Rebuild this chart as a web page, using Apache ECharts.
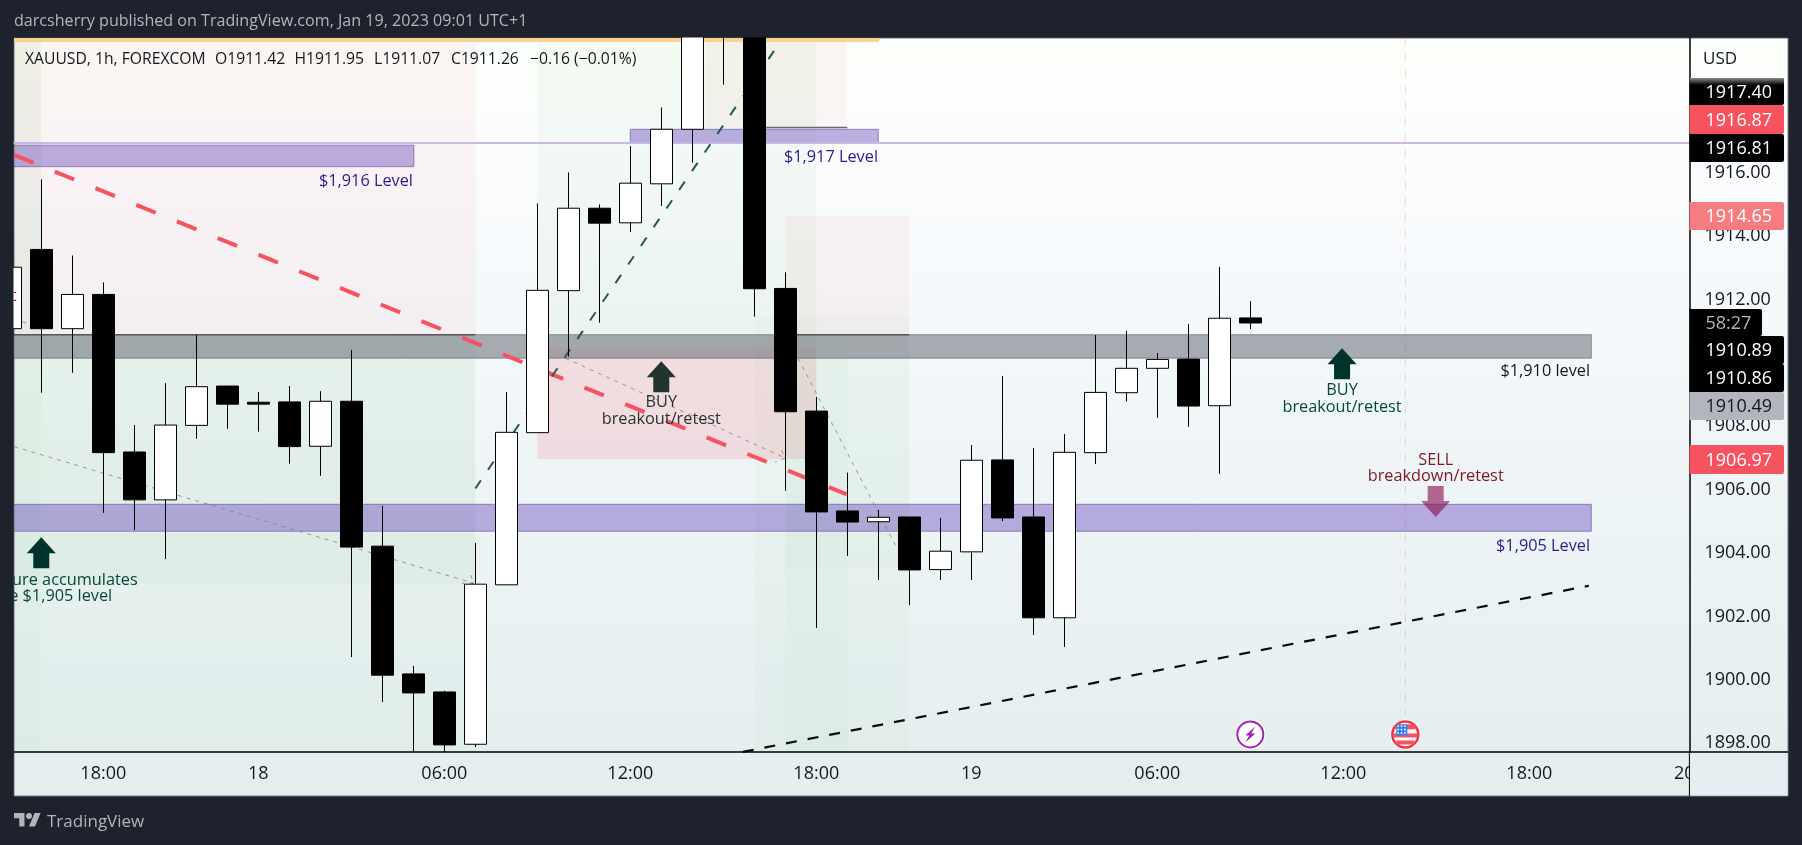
<!DOCTYPE html>
<html>
<head>
<meta charset="utf-8">
<style>html,body{margin:0;padding:0;background:#1e222d}#c{width:1802px;height:845px}</style>
<script src="https://cdn.jsdelivr.net/npm/echarts@6/dist/echarts.min.js"></script>
</head>
<body>
<div id="c"></div>
<script>
// [hour index, open, close, low, high]
const candles = [
[0,1911.08,1913.02,1911.0,1913.1],
[1,1913.58,1911.08,1909.06,1915.79],
[2,1911.08,1912.16,1909.69,1913.39],
[3,1912.16,1907.17,1905.27,1912.54],
[4,1907.19,1905.68,1904.73,1908.04],
[5,1905.68,1908.04,1903.81,1909.36],
[6,1908.03,1909.25,1907.61,1910.88],
[7,1909.27,1908.70,1907.92,1909.27],
[8,1908.76,1908.70,1907.83,1909.08],
[9,1908.77,1907.36,1906.82,1909.27],
[10,1907.37,1908.79,1906.44,1909.11],
[11,1908.79,1904.19,1900.72,1910.41],
[12,1904.22,1900.15,1899.30,1905.49],
[13,1900.19,1899.59,1897.73,1900.44],
[14,1899.62,1897.95,1897.73,1899.66],
[15,1897.97,1903.02,1897.88,1904.32],
[16,1903.00,1907.81,1903.00,1909.08],
[17,1907.80,1912.29,1907.80,1915.03],
[18,1912.28,1914.88,1910.20,1916.01],
[19,1914.88,1914.41,1911.27,1915.00],
[20,1914.42,1915.67,1914.13,1916.84],
[21,1915.65,1917.37,1914.95,1918.06],
[22,1917.37,1921.00,1916.32,1922.00],
[23,1921.00,1921.50,1918.78,1922.00],
[24,1921.00,1912.34,1911.46,1921.00],
[25,1912.35,1908.46,1905.97,1912.86],
[26,1908.48,1905.30,1901.64,1908.93],
[27,1905.33,1904.98,1903.91,1906.54],
[28,1904.99,1905.13,1903.15,1905.36],
[29,1905.14,1903.47,1902.36,1905.14],
[30,1903.48,1904.06,1903.15,1905.11],
[31,1904.04,1906.93,1903.15,1907.41],
[32,1906.94,1905.11,1905.01,1909.59],
[33,1905.14,1901.96,1901.42,1907.32],
[34,1901.96,1907.18,1901.04,1907.76],
[35,1907.17,1909.07,1906.81,1910.88],
[36,1909.06,1909.83,1908.78,1911.01],
[37,1909.83,1910.11,1908.27,1910.31],
[38,1910.12,1908.64,1907.99,1911.23],
[39,1908.65,1911.41,1906.50,1913.03],
[40,1911.42,1911.26,1911.07,1911.95]
];
const tickHours = [3,8,14,20,26,31,37,43,49,54];
const tickLabels = ['18:00','18','06:00','12:00','18:00','19','06:00','12:00','18:00','20'];
const priceTicks = [1898,1900,1902,1904,1906,1908,1912,1914,1916];
const priceTags = [
  ['1917.40','black'],['1916.87','red'],['1916.81','black'],['1914.65','pink'],
  ['58:27','clock'],['1910.89','black'],['1910.86','black'],['1910.49','grey'],['1906.97','red']
];
// [hour from, price from, hour to, price to, tint]
const zones = [
  [-2,1920.15,15.02,1910.89,'pinkSoft'],
  [22.41,1920.15,27,1917.43,'pinkSoft'],
  [-2,1920.25,1,1910.89,'greenFull'],
  [-2,1910.89,1,1897.73,'greenFaint'],
  [17,1920.25,26,1910.47,'greenSoft'],
  [-2,1910.89,15,1897.73,'greenFaint'],
  [-2,1910.89,15,1903.03,'greenSoft'],
  [25,1914.65,29,1910.89,'pinkSoft'],
  [17,1910.49,26,1906.97,'pinkStrong'],
  [24,1911.48,29,1897.73,'greenFaint'],
  [25,1910.89,29,1903.53,'greenFaint'],
  [25,1910.89,27,1897.73,'greenFaint']
];
const bands = [
  [-2,1920.25,28,1920.15,'orange'],
  [-2,1916.87,13.02,1916.19,'purple'],
  [20,1917.37,28,1916.94,'purple'],
  [-2,1905.54,51,1904.69,'purple'],
  [-2,1910.89,51,1910.15,'grey']
];
const redTrend = [[0.12,1916.56],[26.98,1905.85]];
const greenTrend = [[15,1906.04],[24.83,1920.12]];
const blackTrend = [[23.63,1897.73],[50.92,1902.97]];
const greyPaths = [
  [[0.12,1907.36],[14.95,1903.05]],
  [[14.85,1903.31],[14.95,1903.05],[14.57,1903.05]],
  [[17.9,1910.15],[25,1907.0]],
  [[24.88,1907.25],[25,1907.0],[24.67,1906.87]],
  [[25.41,1910.15],[28.6,1904.16]],
  [[0.12,1911.42],[0.64,1911.2]]
];
const levelLine = [[-2,1916.94],[56,1916.94]];
const eventLine = [[45,1920.25],[45,1898.9]];
const darkEdges = [
  [[-2,1910.89],[15,1910.89]],
  [[25,1910.89],[29,1910.89]],
  [[24,1917.43],[27,1917.43]]
];
const arrowsUp = [[1,1904.01,'teal'],[21,1909.56,'slate'],[42.96,1909.97,'teal']];
const arrowsDown = [[45.98,1905.63]];
const notes = [
  [12.99,1915.74,'$1,916 Level','right','indigo'],
  [27.99,1916.49,'$1,917 Level','right','indigo'],
  [50.96,1904.22,'$1,905 Level','right','indigo'],
  [50.96,1909.74,'$1,910 level','right','ink'],
  [21,1908.74,'BUY','center','slate'],
  [21,1908.23,'breakout/retest','center','slate'],
  [42.96,1909.12,'BUY','center','teal'],
  [42.96,1908.59,'breakout/retest','center','teal'],
  [45.98,1906.94,'SELL','center','wine'],
  [45.98,1906.41,'breakdown/retest','center','wine'],
  [1.42,1903.14,'Pressure accumulates','center','teal'],
  [1.03,1902.65,'above $1,905 level','center','teal'],
  [0.2,1912.1,'retest','right','wine']
];
const events = [[40,1898.28,'bolt'],[45,1898.28,'flag']];

const FONT = '"Open Sans", sans-serif';
const tints = {
  pinkSoft:'rgba(240,85,70,0.05)', pinkStrong:'rgba(244,67,80,0.14)',
  greenFull:'rgba(76,150,70,0.07)', greenSoft:'rgba(76,175,80,0.05)', greenFaint:'rgba(76,175,80,0.028)',
  purple:'rgba(95,60,185,0.40)', grey:'rgba(110,113,124,0.58)', orange:'#fbd597'
};
const bandEdge = {purple:'rgba(90,60,150,0.55)', grey:'rgba(90,92,100,0.6)', orange:'#f6c37f'};
const inks = {indigo:'#2f1a92', ink:'#131722', slate:'#26352f', teal:'#06483a', wine:'#7f1722'};
const arrowFill = {teal:'#00332a', slate:'#20352f'};
const tagFill = {black:'#000000', red:'#f7525f', pink:'#f77c80', grey:'#b2b5be', clock:'#000000'};
const tagText = {black:'#ffffff', red:'#ffffff', pink:'#ffffff', grey:'#131722', clock:'#b2b5be'};
const tagBoxes = [[78,27],[105,29],[134,28],[202,28],[309,27],[336,28],[364,28],[392,28],[445,29]];

function rectSeries(list, withEdge, z) {
  return {
    type:'custom', coordinateSystem:'cartesian2d', clip:true, z, silent:true,
    data:list.map(r=>r.slice(0,4)),
    dimensions:['a','b','c','d'],
    encode:{x:[0,2], y:[1,3]},
    renderItem(params, api) {
      const r = list[params.dataIndex];
      const p1 = api.coord([r[0],r[1]]), p2 = api.coord([r[2],r[3]]);
      return {type:'rect', shape:{x:p1[0],y:p1[1],width:p2[0]-p1[0],height:p2[1]-p1[1]},
        style:{fill:tints[r[4]], stroke:withEdge?bandEdge[r[4]]:null, lineWidth:withEdge?1:0}};
    }
  };
}
function lineSeries(data, color, width, dash, z) {
  return {type:'line', data, z, symbol:'none', silent:true, clip:true, animation:false,
    lineStyle:{color, width, type:dash||'solid', cap:'butt'}};
}
function iconItem(params, api) {
  const e = events[params.dataIndex];
  const c = api.coord([e[0],e[1]]), x=c[0], y=c[1];
  const kids = [{type:'circle', shape:{cx:x,cy:y,r:15}, style:{fill:'#ffffff'}}];
  if (e[2]==='bolt') {
    kids.push({type:'circle', shape:{cx:x,cy:y,r:13}, style:{fill:'#ffffff',stroke:'#9c27b0',lineWidth:2}});
    kids.push({type:'polygon', shape:{points:[[x+5,y-8],[x-5,y+1],[x-1,y+1],[x-5,y+8],[x+5,y-1],[x+1,y-1]]}, style:{fill:'#9c27b0'}});
  } else {
    kids.push({type:'circle', shape:{cx:x,cy:y,r:13}, style:{fill:'#ffffff',stroke:'#f23645',lineWidth:2.5}});
    kids.push({type:'rect', shape:{x:x-10,y:y-10,width:20,height:5}, style:{fill:'#f7525f'}});
    kids.push({type:'rect', shape:{x:x-12,y:y-1,width:24,height:4}, style:{fill:'#f7525f'}});
    kids.push({type:'rect', shape:{x:x-9,y:y+6,width:18,height:4}, style:{fill:'#f7525f'}});
    kids.push({type:'rect', shape:{x:x-9,y:y-10,width:11,height:11}, style:{fill:'#2f80ed'}});
    for (let a=0;a<3;a++) for (let b=0;b<3;b++)
      kids.push({type:'rect', shape:{x:x-8+a*3.4,y:y-9+b*3.4,width:1.6,height:1.6}, style:{fill:'#ffffff'}});
  }
  return {type:'group', children:kids};
}
const ARROW = 'path://M14.5 0L29 16H22.5V31H6.5V16H0Z';

const option = {
  animation:false,
  backgroundColor:'#1e222d',
  textStyle:{fontFamily:FONT},
  grid:{left:14, right:112.6, top:38, bottom:93, containLabel:false},
  xAxis:{
    type:'value', min:0.12, max:54.164, z:10, splitLine:{show:false}, axisTick:{show:false},
    axisLine:{show:true, onZero:false, lineStyle:{color:'#000000', width:1.5}},
    axisLabel:{show:true, customValues:tickHours, margin:13, fontSize:18, color:'#131722', fontFamily:FONT,
      formatter:v=>tickLabels[tickHours.indexOf(Math.round(v))]||'', showMinLabel:true, showMaxLabel:true, hideOverlap:false}
  },
  yAxis:{
    type:'value', position:'right', min:1897.726, max:1920.25, z:60, scale:true, splitLine:{show:false},
    axisTick:{show:false},
    axisLine:{show:true, onZero:false, lineStyle:{color:'#000000', width:1.5}},
    axisLabel:{show:true, customValues:priceTicks, margin:15, fontSize:18, color:'#131722', fontFamily:FONT,
      lineHeight:20, padding:[2,0,0,0], formatter:v=>v.toFixed(2)}
  },
  series:[
    rectSeries(zones,false,1),
    rectSeries(bands,true,2),
    lineSeries(levelLine,'#c9b8e6',2,null,3),
    lineSeries(eventLine,'rgba(242,54,69,0.22)',1,[8,8],3),
    ...darkEdges.map(d=>lineSeries(d,'rgba(70,70,70,0.8)',1.5,null,3)),
    ...greyPaths.map(d=>lineSeries(d,'rgba(120,123,134,0.75)',1,[4,5],3)),
    lineSeries(redTrend,'#f7525f',4,[21,23],3),
    lineSeries(greenTrend,'#26594c',2,[10,12.6],3),
    lineSeries(blackTrend,'#0a0a0a',2.2,[11,11],3),
    {type:'candlestick', z:5, clip:true, silent:true, barWidth:23,
      encode:{x:0,y:[1,2,3,4]}, data:candles,
      itemStyle:{color:'#ffffff',color0:'#000000',borderColor:'#000000',borderColor0:'#000000',borderWidth:1}},
    {type:'scatter', z:6, silent:true, clip:true, symbol:ARROW, symbolSize:[29,31], symbolKeepAspect:false,
      data:arrowsUp.map(a=>({value:[a[0],a[1]], itemStyle:{color:arrowFill[a[2]], opacity:1}}))},
    {type:'scatter', z:6, silent:true, clip:true, symbol:ARROW, symbolSize:[29,31], symbolRotate:180,
      data:arrowsDown.map(a=>({value:a})), itemStyle:{color:'rgba(136,14,79,0.62)', opacity:1}},
    {type:'custom', z:7, silent:true, clip:true, coordinateSystem:'cartesian2d',
      data:notes.map(n=>[n[0],n[1]]), encode:{x:0,y:1},
      renderItem(params, api){
        const n = notes[params.dataIndex], c = api.coord([n[0],n[1]]);
        return {type:'text', x:c[0], y:c[1], style:{text:n[2], align:n[3], verticalAlign:'middle',
          fill:inks[n[4]], fontSize:16.3, fontFamily:FONT}};
      }},
    {type:'custom', z:7, silent:true, clip:true, coordinateSystem:'cartesian2d',
      data:events.map(e=>[e[0],e[1]]), encode:{x:0,y:1}, renderItem:iconItem}
  ],
  graphic:{elements:[
    {type:'rect', z:-10, silent:true, shape:{x:14,y:38,width:1774,height:758},
      style:{stroke:'#787b86',lineWidth:1,fill:{type:'linear',x:0,y:0,x2:0,y2:1,colorStops:[
        {offset:0,color:'#fdfffa'},{offset:0.15,color:'#fbfcfe'},{offset:0.55,color:'#eff5f7'},{offset:1,color:'#e3eeef'}]}}},
    {type:'rect', z:50, silent:true, shape:{x:0,y:0,width:1802,height:37.5}, style:{fill:'#1e222d'}},
    {type:'rect', z:50, silent:true, shape:{x:0,y:0,width:13.5,height:845}, style:{fill:'#1e222d'}},
    {type:'rect', z:50, silent:true, shape:{x:1690.2,y:753,width:97.3,height:42.5}, style:{fill:'#e4eef0'}},
    {type:'line', z:51, silent:true, shape:{x1:1689.4,y1:752,x2:1689.4,y2:796}, style:{stroke:'#000000',lineWidth:1}},
    {type:'line', z:51, silent:true, shape:{x1:1689,y1:752,x2:1788,y2:752}, style:{stroke:'#000000',lineWidth:1.5}},
    {type:'text', z:70, silent:true, x:14, y:21, style:{text:'darcsherry published on TradingView.com, Jan 19, 2023 09:01 UTC+1',
      fill:'#b2b5be',fontSize:16.1,fontFamily:FONT,verticalAlign:'middle',fontWeight:500}},
    {type:'text', z:70, silent:true, x:25, y:60, style:{text:'XAUUSD, 1h, FOREXCOM',fill:'#131722',fontSize:15.7,fontFamily:FONT,verticalAlign:'middle'}},
    {type:'text', z:70, silent:true, x:215, y:60, style:{text:'O1911.42',fill:'#131722',fontSize:15.7,fontFamily:FONT,verticalAlign:'middle'}},
    {type:'text', z:70, silent:true, x:294.5, y:60, style:{text:'H1911.95',fill:'#131722',fontSize:15.7,fontFamily:FONT,verticalAlign:'middle'}},
    {type:'text', z:70, silent:true, x:374, y:60, style:{text:'L1911.07',fill:'#131722',fontSize:15.7,fontFamily:FONT,verticalAlign:'middle'}},
    {type:'text', z:70, silent:true, x:451, y:60, style:{text:'C1911.26',fill:'#131722',fontSize:15.7,fontFamily:FONT,verticalAlign:'middle'}},
    {type:'text', z:70, silent:true, x:530, y:60, style:{text:'\u22120.16 (\u22120.01%)',fill:'#131722',fontSize:15.7,fontFamily:FONT,verticalAlign:'middle'}},
    {type:'text', z:70, silent:true, x:1703, y:59, style:{text:'USD',fill:'#131722',fontSize:17,fontFamily:FONT,verticalAlign:'middle'}},
    ...priceTags.map((t,i)=>({type:'rect', z:70, silent:true,
      shape:{x:1689.5,y:tagBoxes[i][0],width:t[1]==='clock'?72.5:94.5,height:tagBoxes[i][1],r:[0,2,2,0]},
      style:{fill:tagFill[t[1]]}})),
    {type:'rect', z:70.5, silent:true, shape:{x:1689.5,y:78,width:94.5,height:7,r:[0,2,0,0]},
      style:{fill:{type:'linear',x:0,y:0,x2:0,y2:1,colorStops:[{offset:0,color:'#8a8a8a'},{offset:1,color:'#000000'}]}}},
    ...priceTags.map((t,i)=>({type:'text', z:71, silent:true, x:1705.5, y:tagBoxes[i][0]+tagBoxes[i][1]/2+1,
      style:{text:t[0],fill:tagText[t[1]],fontSize:18,fontFamily:FONT,verticalAlign:'middle'}})),
    {type:'polygon', z:70, silent:true, shape:{points:[[14,813],[24.5,813],[24.5,826.5],[19.25,826.5],[19.25,818.25],[14,818.25]]}, style:{fill:'#b2b5be'}},
    {type:'polygon', z:70, silent:true, shape:{points:[[29,826.5],[34.6,813],[40.6,813],[35,826.5]]}, style:{fill:'#b2b5be'}},
    {type:'circle', z:70, silent:true, shape:{cx:29,cy:816,r:3}, style:{fill:'#b2b5be'}},
    {type:'text', z:70, silent:true, x:47, y:822, style:{text:'TradingView',fill:'#b2b5be',fontSize:17,fontFamily:FONT,verticalAlign:'middle',fontWeight:500}}
  ]}
};
echarts.init(document.getElementById('c'),null,{renderer:'canvas'}).setOption(option);
</script>
</body>
</html>
